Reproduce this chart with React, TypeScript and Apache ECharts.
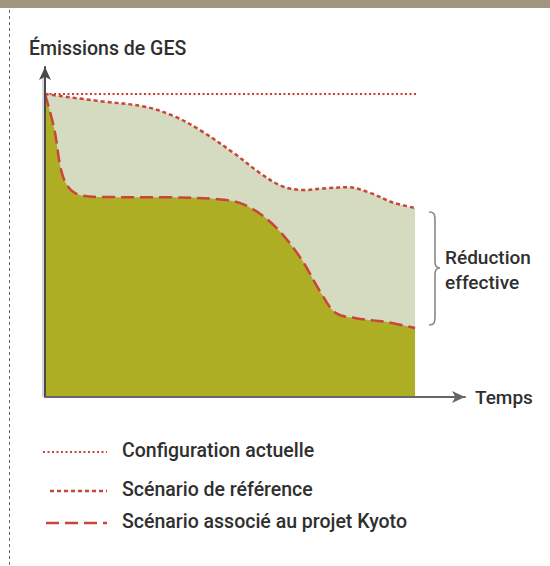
import React, { useEffect, useRef } from "react";
import * as echarts from "echarts";

// Scenario "de référence" (time in % of horizon, emissions in % of current level)
const referenceTime = [0, 15, 27, 35, 42, 51, 58, 64, 70, 76, 82, 88, 94, 100];
const referenceValues = [100, 97.6, 95.8, 92.6, 88.0, 80.5, 74.0, 69.6, 68.3, 68.9, 69.2, 67.3, 64.2, 62.4];

// Scenario associated with the Kyoto project
const kyotoTime = [0, 2.5, 4.8, 8, 15, 33, 49, 55, 62, 69, 74.5, 78.5, 84, 92, 100];
const kyotoValues = [100, 88.5, 73.0, 67.4, 66.0, 65.9, 65.0, 62.8, 56.5, 46.0, 34.5, 27.8, 26.0, 24.8, 22.8];

// Current configuration
const currentTime = [0, 100.5];
const currentValues = [100, 100];

const legendLabels = [
  "Configuration actuelle",
  "Scénario de référence",
  "Scénario associé au projet Kyoto",
];
const yAxisTitle = "Émissions de GES";
const xAxisTitle = "Temps";
const braceLabel = ["Réduction", "effective"];

const RED = "#c9443a";
const LIGHT = "#d4dbc0";
const OLIVE = "#aeae25";
const TEXT = "#2f2f2f";
const FONT = "Roboto, 'Noto Sans', sans-serif";

const zip = (xs: number[], ys: number[]) => xs.map((x, i) => [x, ys[i]]);

echarts.graphic.registerShape(
  "brace",
  echarts.graphic.extendPath(
    "M0,0 C5,0 6,2 6,8 L6,50 C6,54 7,56 11,56 C7,56 6,58 6,62 L6,105 C6,111 5,113 0,113",
    {}
  )
);

export default function App() {
  const ref = useRef<HTMLDivElement>(null);
  useEffect(() => {
    if (!ref.current) return;
    const chart = echarts.init(ref.current, undefined, { renderer: "svg" });
    const legendY = [450, 489, 521];
    const legendDash = [[2, 2.5], [4, 3], [13, 6]];
    const legendStart = [43, 50, 46];
    const legendWidth = [2, 2.5, 2.5];
    chart.setOption({
      animation: false,
      grid: { left: 45, top: 67, width: 420, height: 330 },
      xAxis: {
        type: "value",
        min: 0,
        max: 113.5,
        z: 10,
        name: xAxisTitle,
        nameLocation: "end",
        nameGap: 10,
        nameTextStyle: { fontFamily: FONT, fontSize: 19, fontWeight: 500, color: TEXT, align: "left", verticalAlign: "middle" },
        axisLine: { show: true, lineStyle: { color: "#666", width: 2 }, symbol: ["none", "arrow"], symbolSize: [9, 13] },
        axisTick: { show: false },
        axisLabel: { show: false },
        splitLine: { show: false },
      },
      yAxis: {
        type: "value",
        min: 0,
        max: 108.9,
        z: 10,
        axisLine: { show: true, lineStyle: { color: "#4a4a4a", width: 2 }, symbol: ["none", "arrow"], symbolSize: [9, 13] },
        axisTick: { show: false },
        axisLabel: { show: false },
        splitLine: { show: false },
      },
      series: [
        {
          name: legendLabels[1],
          type: "line",
          data: zip(referenceTime, referenceValues),
          smooth: 0.35,
          showSymbol: false,
          lineStyle: { color: RED, width: 2.5, type: [4, 3] },
          areaStyle: { color: LIGHT, opacity: 1 },
          z: 2,
        },
        {
          name: legendLabels[2],
          type: "line",
          data: zip(kyotoTime, kyotoValues),
          smooth: 0.35,
          showSymbol: false,
          lineStyle: { color: RED, width: 2.5, type: [13, 6] },
          areaStyle: { color: OLIVE, opacity: 1 },
          z: 3,
        },
        {
          name: legendLabels[0],
          type: "line",
          data: zip(currentTime, currentValues),
          showSymbol: false,
          lineStyle: { color: "#d23a30", width: 2, type: [2, 2.5] },
          z: 4,
        },
      ],
      graphic: [
        { type: "rect", shape: { x: 0, y: 0, width: 550, height: 8 }, style: { fill: "#a0957f" } },
        { type: "line", shape: { x1: 9.5, y1: 10, x2: 9.5, y2: 566 }, style: { stroke: "#666", lineWidth: 1, lineDash: [3, 3] } },
        { type: "line", shape: { x1: 43, y1: 74, x2: 43, y2: 397 }, style: { stroke: "#c8c8d0", lineWidth: 1.5 } },
        {
          type: "text",
          x: 29,
          y: 48,
          style: { text: yAxisTitle, fontFamily: FONT, fontSize: 19.5, fontWeight: 500, fill: TEXT, verticalAlign: "middle" },
        },
        { type: "brace", x: 429, y: 212, style: { stroke: "#888", fill: "none", lineWidth: 1.6 } },
        {
          type: "text",
          x: 445,
          y: 257,
          style: { text: braceLabel[0], fontFamily: FONT, fontSize: 19, fontWeight: 500, fill: TEXT, verticalAlign: "middle" },
        },
        {
          type: "text",
          x: 445,
          y: 282,
          style: { text: braceLabel[1], fontFamily: FONT, fontSize: 19, fontWeight: 500, fill: TEXT, verticalAlign: "middle" },
        },
        ...legendLabels.flatMap((label, i) => [
          {
            type: "line",
            shape: { x1: legendStart[i], y1: legendY[i] + 2, x2: 107, y2: legendY[i] + 2 },
            style: { stroke: RED, lineWidth: legendWidth[i], lineDash: legendDash[i] },
          },
          {
            type: "text",
            x: 122,
            y: legendY[i],
            style: { text: label, fontFamily: FONT, fontSize: 19.5, fontWeight: 500, fill: TEXT, verticalAlign: "middle" },
          },
        ]),
      ],
    });
    return () => chart.dispose();
  }, []);
  return <div ref={ref} style={{ position: "fixed", left: 0, top: 0, width: 550, height: 566, background: "#fff" }} />;
}
